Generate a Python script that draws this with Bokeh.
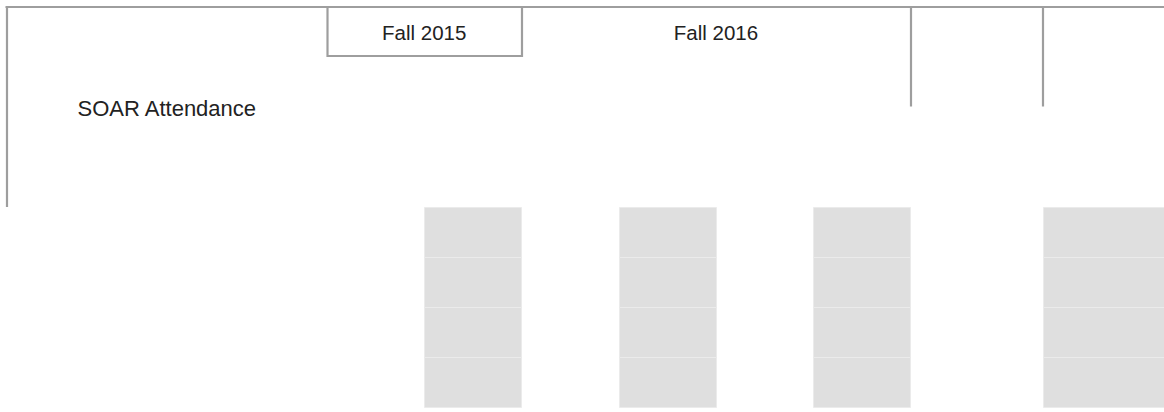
from bokeh.plotting import figure
from bokeh.models import Range1d, ColumnDataSource
from bokeh.core.properties import value
from bokeh.embed import file_html
from bokeh.resources import INLINE

# ---- content ----
terms = ["Fall 2015", "Fall 2016"]
row_labels = ["SOAR Attendance"]
cell_columns = ["c1", "c2", "c3", "c4"]
cell_rows = ["r1", "r2", "r3", "r4"]

# ---- layout (pixel space of the picture) ----
W, H = 1164, 412
term_x = [423.7, 715.5]
term_y = 32
label_x = 77
label_y = 107.5
col_edges = [(424, 521), (619, 716), (813, 910), (1043, 1170)]
row_top, row_h = 207, 50
line_color = "#9e9e9e"

p = figure(width=W, height=H, output_backend="svg", toolbar_location=None,
           x_range=Range1d(0, W), y_range=Range1d(H, 0),
           x_axis_location=None, y_axis_location=None,
           min_border=0, outline_line_color=None)
p.grid.visible = False
p.background_fill_color = "white"
p.border_fill_color = "white"

# grey cells
l, r, t, b = [], [], [], []
for ci, _c in enumerate(cell_columns):
    for ri, _r in enumerate(cell_rows):
        l.append(col_edges[ci][0]); r.append(col_edges[ci][1])
        t.append(row_top + ri * row_h); b.append(row_top + (ri + 1) * row_h)
p.quad(left=l, right=r, top=t, bottom=b, fill_color="#dfdfdf",
       line_color="#ebebeb", line_width=1)

# table rules
segs = dict(
    x0=[5, 6.5, 327, 327, 521.5, 910.5, 1042.5],
    y0=[6.5, 6.5, 6.5, 55.5, 6.5, 6.5, 6.5],
    x1=[W, 6.5, 327, 522.5, 521.5, 910.5, 1042.5],
    y1=[6.5, 206.5, 56.5, 55.5, 56.5, 106, 106],
)
p.segment(source=ColumnDataSource(segs), x0="x0", y0="y0", x1="x1", y1="y1",
          line_color=line_color, line_width=2.2)

# header texts
p.text(x=term_x, y=[term_y] * len(terms), text=terms,
       text_font=value("Liberation Sans"), text_font_size="20.5px",
       text_color="#222222", text_align="center", text_baseline="middle")

# row label
p.text(x=[label_x], y=[label_y], text=row_labels,
       text_font=value("Liberation Sans"), text_font_size="22px",
       text_color="#222222", text_align="left", text_baseline="middle")

open("out.html", "w").write(file_html(p, INLINE))
